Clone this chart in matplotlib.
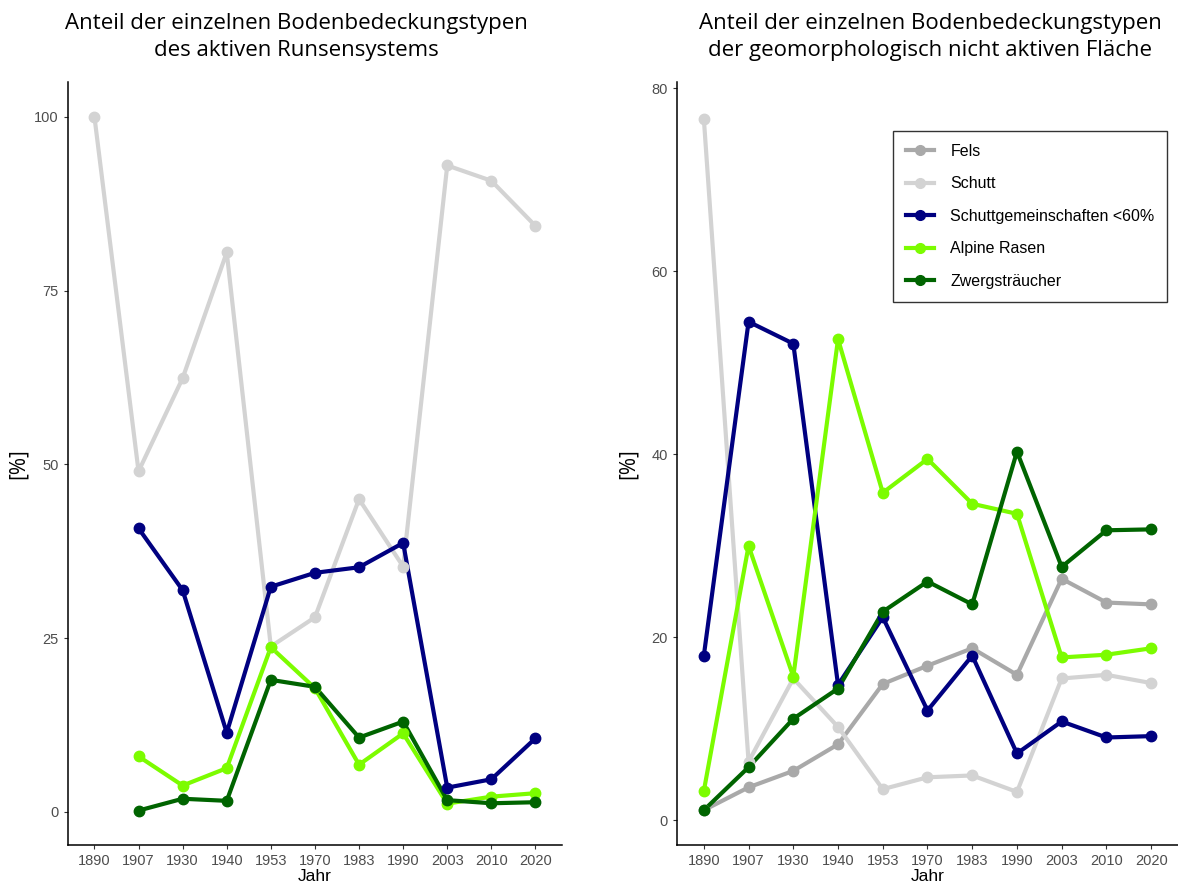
import matplotlib
matplotlib.use('Agg')
import matplotlib.pyplot as plt
import numpy as np

# Erhebungsjahre (diskrete Achse)
years = ['1890', '1907', '1930', '1940', '1953', '1970', '1983', '1990', '2003', '2010', '2020']

# Anteile [%] im aktiven Runsensystem
act_schutt = [100.0, 49.0, 62.4, 80.5, 23.8, 28.0, 45.0, 35.3, 93.0, 90.8, 84.3]
act_schuttgem = [np.nan, 40.8, 31.9, 11.4, 32.4, 34.4, 35.2, 38.7, 3.5, 4.7, 10.6]
act_rasen = [np.nan, 8.0, 3.8, 6.3, 23.7, 17.8, 6.8, 11.3, 1.2, 2.2, 2.7]
act_zwerg = [np.nan, 0.2, 1.9, 1.6, 19.0, 18.0, 10.7, 13.0, 1.7, 1.25, 1.4]

# Anteile [%] der geomorphologisch nicht aktiven Flaeche
ina_fels = [1.1, 3.6, 5.4, 8.3, 14.9, 16.9, 18.8, 15.9, 26.4, 23.8, 23.6]
ina_schutt = [76.7, 6.4, 15.5, 10.2, 3.4, 4.7, 4.9, 3.1, 15.5, 15.9, 15.0]
ina_schuttgem = [18.0, 54.5, 52.1, 14.8, 22.2, 12.0, 18.0, 7.3, 10.8, 9.05, 9.2]
ina_rasen = [3.2, 30.0, 15.7, 52.6, 35.8, 39.5, 34.6, 33.5, 17.8, 18.1, 18.8]
ina_zwerg = [1.1, 5.8, 11.1, 14.4, 22.8, 26.1, 23.6, 40.3, 27.7, 31.7, 31.8]

labels = ['Fels', 'Schutt', 'Schuttgemeinschaften <60%', 'Alpine Rasen', 'Zwergsträucher']
colors = {'Fels': '#a9a9a9', 'Schutt': '#d3d3d3', 'Schuttgemeinschaften <60%': '#000080',
          'Alpine Rasen': '#7cfc00', 'Zwergsträucher': '#006400'}

plt.rcParams['font.family'] = ['Liberation Sans', 'DejaVu Sans']


def draw_panel(ax, series, yticks, ylim, ylabelpad):
    x = np.arange(len(years))
    # erst alle Linien, dann alle Punkte (wie ggplot)
    for name, vals in series:
        ax.plot(x, vals, color=colors[name], lw=3.0, zorder=2, solid_capstyle='butt')
    for name, vals in series:
        ax.plot(x, vals, linestyle='none', marker='o', markersize=7.5,
                color=colors[name], zorder=3)
    ax.set_xlim(-0.6, len(years) - 0.4)
    ax.set_ylim(*ylim)
    ax.set_xticks(x)
    ax.set_xticklabels(years)
    ax.set_yticks(yticks)
    ax.tick_params(colors='#333333', labelcolor='#4d4d4d', labelsize=10.5, length=3, width=0.8)
    for side in ['top', 'right']:
        ax.spines[side].set_visible(False)
    for side in ['left', 'bottom']:
        ax.spines[side].set_linewidth(1.1)
    ax.set_xlabel('Jahr', fontsize=12.5, labelpad=1)
    ax.set_ylabel('[%]', fontsize=15, labelpad=ylabelpad, family='Open Sans')


fig = plt.figure(figsize=(11.78, 8.86), dpi=100)
ax1 = fig.add_axes([0.0577, 0.0463, 0.4193, 0.8611])
ax2 = fig.add_axes([0.5747, 0.0463, 0.4253, 0.8611])

draw_panel(ax1, [('Schutt', act_schutt),
                 ('Schuttgemeinschaften <60%', act_schuttgem),
                 ('Alpine Rasen', act_rasen),
                 ('Zwergsträucher', act_zwerg)],
           [0, 25, 50, 75, 100], (-4.75, 105.0), 4)

draw_panel(ax2, [('Fels', ina_fels),
                 ('Schutt', ina_schutt),
                 ('Schuttgemeinschaften <60%', ina_schuttgem),
                 ('Alpine Rasen', ina_rasen),
                 ('Zwergsträucher', ina_zwerg)],
           [0, 20, 40, 60, 80], (-2.7, 80.7), 9)

handles = [plt.Line2D([], [], color=colors[n], lw=3.0, marker='o', markersize=7) for n in labels]
leg = ax2.legend(handles, labels, loc='upper left', bbox_to_anchor=(0.431, 0.936),
                 frameon=True, fancybox=False, edgecolor='black', fontsize=11.5,
                 handlelength=1.8, handletextpad=1.0, labelspacing=1.1,
                 borderpad=0.8, borderaxespad=0)
leg.get_frame().set_linewidth(1.0)

fig.text(296 / 1178, 1 - 37 / 886, 'Anteil der einzelnen Bodenbedeckungstypen\ndes aktiven Runsensystems',
         ha='center', va='center', fontsize=16, family='Open Sans', linespacing=1.4)
fig.text(930 / 1178, 1 - 37 / 886, 'Anteil der einzelnen Bodenbedeckungstypen\nder geomorphologisch nicht aktiven Fläche',
         ha='center', va='center', fontsize=16, family='Open Sans', linespacing=1.4)

fig.savefig('out.png', dpi=100)
